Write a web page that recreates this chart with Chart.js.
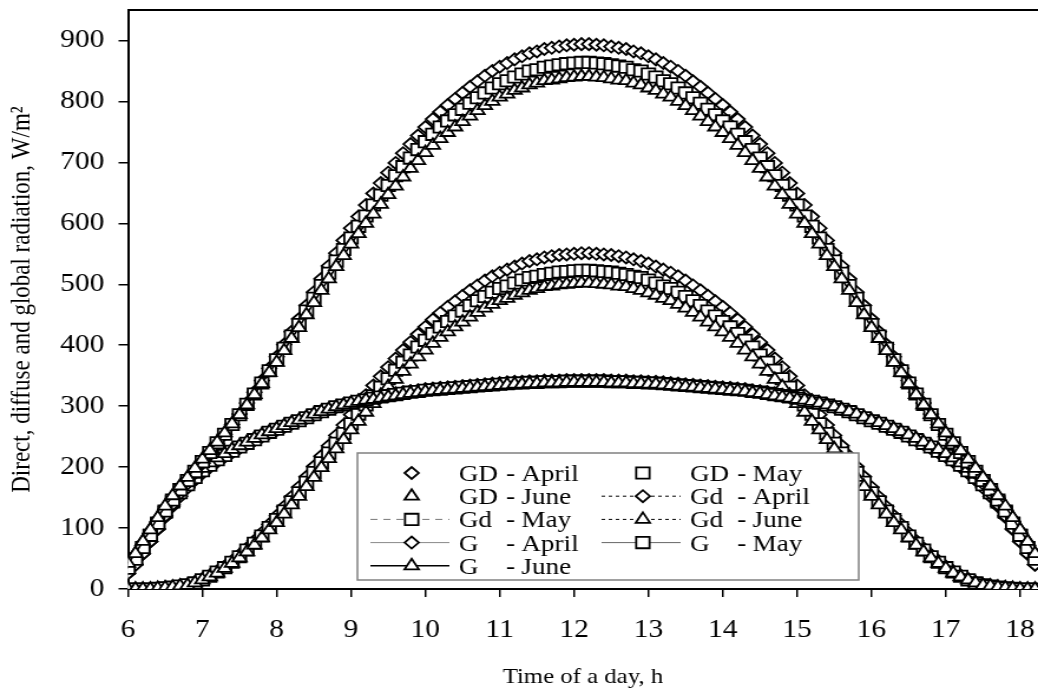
<!DOCTYPE html>
<html>
<head>
<meta charset="utf-8">
<script src="https://cdn.jsdelivr.net/npm/chart.js@4.4.1/dist/chart.umd.min.js"></script>
<style>
  html, body { margin: 0; padding: 0; background: #fff; overflow: hidden; }
  /* the original figure is stretched sideways, so the canvas is too */
  #wrap { width: 880px; height: 689px; transform: scaleX(1.17955); transform-origin: 0 0; }
</style>
</head>
<body>
<div id="wrap"><canvas id="grafico" width="880" height="689" style="width:880px;height:689px"></canvas></div>
<script>
// hora do dia (h)
const horas = [6,6.1,6.2,6.3,6.4,6.5,6.6,6.7,6.8,6.9,7,7.1,7.2,7.3,7.4,7.5,7.6,7.7,7.8,7.9,
  8,8.1,8.2,8.3,8.4,8.5,8.6,8.7,8.8,8.9,9,9.1,9.2,9.3,9.4,9.5,9.6,9.7,9.8,9.9,
  10,10.1,10.2,10.3,10.4,10.5,10.6,10.7,10.8,10.9,11,11.1,11.2,11.3,11.4,11.5,11.6,11.7,11.8,11.9,
  12,12.1,12.2,12.3,12.4,12.5,12.6,12.7,12.8,12.9,13,13.1,13.2,13.3,13.4,13.5,13.6,13.7,13.8,13.9,
  14,14.1,14.2,14.3,14.4,14.5,14.6,14.7,14.8,14.9,15,15.1,15.2,15.3,15.4,15.5,15.6,15.7,15.8,15.9,
  16,16.1,16.2,16.3,16.4,16.5,16.6,16.7,16.8,16.9,17,17.1,17.2,17.3,17.4,17.5,17.6,17.7,17.8,17.9,
  18,18.1,18.2];

// radiacao direta GD (W/m2)
const gdAbril = [0,0,0,0,1,2,3,5,7,11,16,22,29,37,46,56,67,79,92,106,120,135,151,167,184,201,218,235,252,269,286,302,318,334,349,364,378,392,405,418,430,442,453,463,472,481,490,498,506,513,519,524,529,534,538,541,544,546,548,549,550,551,
  551,550,549,548,546,544,541,538,534,529,524,519,513,506,498,490,481,472,463,453,442,430,418,405,392,378,364,349,334,318,302,286,269,252,235,218,201,184,167,151,135,120,106,92,79,67,56,46,37,29,22,16,11,7,5,3,2,1,0,0,0];
const gdMaio = [0,0,0,0,1,2,3,5,7,10,15,21,28,35,44,53,64,75,87,101,114,128,143,158,175,191,207,223,239,255,271,287,302,317,331,345,359,372,384,397,408,419,430,439,448,456,465,473,480,487,493,497,502,507,511,513,516,518,520,521,522,523,
  523,522,521,520,518,516,513,511,507,502,497,493,487,480,473,465,456,448,439,430,419,408,397,384,372,359,345,331,317,302,287,271,255,239,223,207,191,175,158,143,128,114,101,87,75,64,53,44,35,28,21,15,10,7,5,3,2,1,0,0,0];
const gdJunho = [0,0,0,0,1,2,3,5,6,10,15,20,26,34,42,51,61,72,84,97,109,123,138,152,168,183,199,214,230,245,261,275,290,304,318,332,344,357,369,381,392,403,413,422,430,438,446,454,461,467,473,477,482,486,490,493,496,497,499,500,501,502,
  502,501,500,499,497,496,493,490,486,482,477,473,467,461,454,446,438,430,422,413,403,392,381,369,357,344,332,318,304,290,275,261,245,230,214,199,183,168,152,138,123,109,97,84,72,61,51,42,34,26,20,15,10,6,5,3,2,1,0,0,0];

// radiacao difusa Gd (W/m2)
const difAbril = [26,40,58,78,98,118,136,152,166,179,190,200,209,217,224,231,238,244,250,256,261,266,271,276,281,286,291,295,299,303,306,309,312,315,317,319,321,323,325,326,328,329,330,331,332,333,334,335,336,337,338,339,340,340,341,341,342,342,342,343,343,343,
  343,343,343,342,342,342,341,341,340,340,339,338,337,336,335,334,333,332,331,330,329,328,326,325,323,321,319,317,315,312,309,306,303,299,295,291,286,281,276,271,266,261,256,250,244,238,231,224,217,209,200,190,179,166,152,136,118,98,78,58,40];
const difMaio = [34,49,68,88,107,126,143,158,171,183,194,203,212,219,226,233,239,245,251,257,262,267,272,276,281,286,291,295,299,302,305,308,310,313,315,317,319,321,323,324,326,327,328,329,330,331,332,333,334,335,336,337,338,338,339,339,340,340,340,341,341,341,
  341,341,341,340,340,340,339,339,338,338,337,336,335,334,333,332,331,330,329,328,327,326,324,323,321,319,317,315,313,310,308,305,302,299,295,291,286,281,276,272,267,262,257,251,245,239,233,226,219,212,203,194,183,171,158,143,126,107,88,68,49];
const difJunho = [42,58,78,97,116,134,150,164,177,188,198,207,215,222,229,235,241,247,253,258,263,268,273,277,282,287,291,295,299,302,305,308,310,311,313,315,317,319,321,322,324,325,326,327,328,329,330,331,332,333,334,335,336,336,337,337,338,338,338,339,339,339,
  339,339,339,338,338,338,337,337,336,336,335,334,333,332,331,330,329,328,327,326,325,324,322,321,319,317,315,313,311,310,308,305,302,299,295,291,287,282,277,273,268,263,258,253,247,241,235,229,222,215,207,198,188,177,164,150,134,116,97,78,58];

// radiacao global G (W/m2)
const gAbril = [26,40,58,78,99,120,139,157,173,190,206,222,238,254,270,287,305,323,342,362,381,401,422,443,465,487,509,530,551,572,592,611,630,649,666,683,699,715,730,744,758,771,783,794,804,814,824,833,842,850,857,863,869,874,879,882,886,888,890,892,893,894,
  894,893,892,890,888,886,882,879,874,869,863,857,850,842,833,824,814,804,794,783,771,758,744,730,715,699,683,666,649,630,611,592,572,551,530,509,487,465,443,422,401,381,362,342,323,305,287,270,254,238,222,206,190,173,157,139,120,99,78,58,40];
const gMaio = [34,49,68,88,108,128,146,163,178,193,209,224,240,254,270,286,303,320,338,358,376,395,415,434,456,477,498,518,538,557,576,595,612,630,646,662,678,693,707,721,734,746,758,768,778,787,797,806,814,822,829,834,840,845,850,852,856,858,860,862,863,864,
  864,863,862,860,858,856,852,850,845,840,834,829,822,814,806,797,787,778,768,758,746,734,721,707,693,678,662,646,630,612,595,576,557,538,518,498,477,456,434,415,395,376,358,338,320,303,286,270,254,240,224,209,193,178,163,146,128,108,88,68,49];
const gJunho = [42,58,78,97,117,136,153,169,183,198,213,227,241,256,271,286,302,319,337,355,372,391,411,429,450,470,490,509,529,547,566,583,600,615,631,647,661,676,690,703,716,728,739,749,758,767,776,785,793,800,807,812,818,822,827,830,834,835,837,839,840,841,
  841,840,839,837,835,834,830,827,822,818,812,807,800,793,785,776,767,758,749,739,728,716,703,690,676,661,647,631,615,600,583,566,547,529,509,490,470,450,429,411,391,372,355,337,319,302,286,271,256,241,227,213,198,183,169,153,136,117,97,78,58];

const ticksY = [0, 100, 200, 300, 400, 500, 600, 700, 800, 900];
const ticksX = [6, 7, 8, 9, 10, 11, 12, 13, 14, 15, 16, 17, 18];

const fonte = '"Liberation Serif", "Times New Roman", serif';

function serie(valores) {
  return horas.map((h, i) => ({ x: h, y: valores[i] }));
}

// estilo de cada curva
const marcas = { April: ['rectRot', 6], May: ['rect', 8], June: ['triangle', 7] };
const linhas = {
  GD: { April: null, May: null, June: null },
  Gd: { April: ['#000', 1, [3, 3]], May: ['#777', 1, [6, 5]], June: ['#000', 1, [3, 3]] },
  G:  { April: ['#888', 1, []], May: ['#666', 1, []], June: ['#000', 1.6, []] }
};

const fontes = [
  ['GD', 'April', gdAbril], ['GD', 'May', gdMaio], ['GD', 'June', gdJunho],
  ['Gd', 'April', difAbril], ['Gd', 'May', difMaio], ['Gd', 'June', difJunho],
  ['G', 'April', gAbril], ['G', 'May', gMaio], ['G', 'June', gJunho]
];

const datasets = fontes.map(([tipo, mes, valores], i) => {
  const linha = linhas[tipo][mes];
  return {
    label: tipo + ' - ' + mes,
    data: serie(valores),
    showLine: !!linha,
    borderColor: linha ? linha[0] : '#000',
    borderWidth: linha ? linha[1] : 0,
    borderDash: linha ? linha[2] : [],
    pointStyle: marcas[mes][0],
    pointRadius: marcas[mes][1],
    pointBorderColor: '#000',
    pointBackgroundColor: '#fff',
    pointBorderWidth: 1.8,
    fill: false,
    tension: 0,
    clip: 0,
    order: -i
  };
});

// contorno superior da area do grafico
const molduraPlugin = {
  id: 'moldura',
  afterDraw(chart) {
    const { ctx, chartArea } = chart;
    ctx.save();
    ctx.strokeStyle = '#000';
    ctx.lineWidth = 2;
    ctx.beginPath();
    ctx.moveTo(chartArea.left, chartArea.top);
    ctx.lineTo(chartArea.right, chartArea.top);
    ctx.stroke();
    ctx.restore();
  }
};

function desenhaMarca(ctx, estilo, r, x, y) {
  ctx.beginPath();
  if (estilo === 'rectRot') {
    ctx.moveTo(x - r, y); ctx.lineTo(x, y - r); ctx.lineTo(x + r, y); ctx.lineTo(x, y + r);
  } else if (estilo === 'rect') {
    const s = r * Math.SQRT1_2;
    ctx.rect(x - s, y - s, 2 * s, 2 * s);
  } else {
    for (let k = 0; k < 3; k++) {
      const a = k * 2 * Math.PI / 3;
      const px = x + Math.sin(a) * r, py = y - Math.cos(a) * r;
      if (k === 0) ctx.moveTo(px, py); else ctx.lineTo(px, py);
    }
  }
  ctx.closePath();
  ctx.fillStyle = '#fff';
  ctx.fill();
  ctx.strokeStyle = '#000';
  ctx.lineWidth = 1.8;
  ctx.stroke();
}

// legenda em duas colunas dentro do grafico
const legendaPlugin = {
  id: 'legenda',
  afterDraw(chart) {
    const ctx = chart.ctx;
    const caixa = { x: 303, y: 453, w: 425, h: 127 };
    ctx.save();
    ctx.fillStyle = '#fff';
    ctx.fillRect(caixa.x, caixa.y, caixa.w, caixa.h);
    ctx.strokeStyle = '#808080';
    ctx.lineWidth = 1.5;
    ctx.strokeRect(caixa.x, caixa.y, caixa.w, caixa.h);

    const colunas = [314, 510];
    ctx.font = '23px ' + fonte;
    ctx.textBaseline = 'middle';
    ctx.textAlign = 'left';
    fontes.forEach(([tipo, mes], i) => {
      const x0 = colunas[i % 2];
      const y = 473 + Math.floor(i / 2) * 23.2;
      const linha = linhas[tipo][mes];
      if (linha) {
        ctx.strokeStyle = linha[0];
        ctx.lineWidth = linha[1];
        ctx.setLineDash(linha[2]);
        ctx.beginPath();
        ctx.moveTo(x0, y);
        ctx.lineTo(x0 + 67, y);
        ctx.stroke();
        ctx.setLineDash([]);
      }
      desenhaMarca(ctx, marcas[mes][0], marcas[mes][1], x0 + 35, y);
      ctx.fillStyle = '#000';
      ctx.fillText(tipo, x0 + 75, y + 2);
      ctx.fillText('-', x0 + 115, y + 2);
      ctx.fillText(mes, x0 + 128, y + 2);
    });
    ctx.restore();
  }
};

new Chart(document.getElementById('grafico').getContext('2d'), {
  type: 'line',
  data: { datasets },
  options: {
    responsive: false,
    animation: false,
    devicePixelRatio: 1,
    layout: { autoPadding: false, padding: { top: 10, right: 0, bottom: 0, left: 0 } },
    plugins: { legend: { display: false }, tooltip: { enabled: false } },
    scales: {
      x: {
        type: 'linear',
        min: 6,
        max: 18.24,
        afterFit: (s) => { s.height = 100; s.paddingLeft = 0; s.paddingRight = 0; },
        afterBuildTicks: (s) => { s.ticks = ticksX.map(v => ({ value: v })); },
        ticks: { font: { family: fonte, size: 25 }, color: '#000', padding: 18, maxRotation: 0, autoSkip: false },
        grid: { drawOnChartArea: false, drawTicks: true, tickLength: 8, color: '#000', lineWidth: 1.5 },
        border: { color: '#000', width: 2 },
        title: { display: true, text: 'Time of a day, h', color: '#000', font: { family: fonte, size: 21, lineHeight: 1 }, padding: { top: 0, bottom: 1 } }
      },
      y: {
        min: 0,
        max: 950,
        afterFit: (s) => { s.width = 108.5; s.paddingTop = 0; s.paddingBottom = 0; },
        afterBuildTicks: (s) => { s.ticks = ticksY.map(v => ({ value: v })); },
        ticks: { font: { family: fonte, size: 25 }, color: '#000', padding: 12 },
        grid: { drawOnChartArea: false, drawTicks: true, tickLength: 8, color: '#000', lineWidth: 1.5 },
        border: { color: '#000', width: 2 },
        title: { display: true, text: 'Direct, diffuse and global radiation, W/m²', color: '#000', font: { family: fonte, size: 23, lineHeight: 1 }, padding: { top: 7, bottom: 0 } }
      }
    }
  },
  plugins: [molduraPlugin, legendaPlugin]
});
</script>
</body>
</html>
